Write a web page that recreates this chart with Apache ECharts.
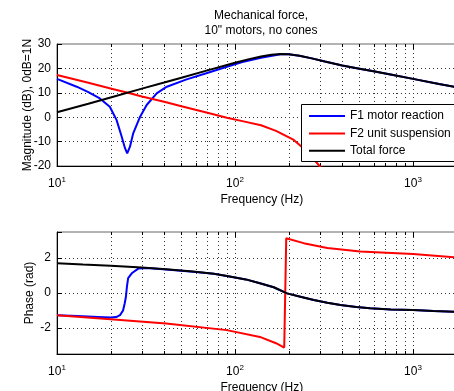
<!DOCTYPE html>
<html>
<head>
<meta charset="utf-8">
<script src="https://cdn.jsdelivr.net/npm/echarts@6/dist/echarts.min.js"></script>
<style>
  html, body { margin: 0; padding: 0; background: #fff; }
  #chart { width: 454px; height: 391px; }
</style>
</head>
<body>
<div id="chart"></div>
<script>
// magnitude (dB re 1N) vs frequency (Hz)
const f1MagFreq = [10, 12.9, 15, 17.4, 19.8, 21.6, 23.1, 24.1, 24.8, 25.7, 26.8, 29.3, 31.9, 36.3, 41.4, 53.5, 69, 90, 110, 140, 180, 200, 230, 270, 320, 400, 500, 600, 800, 1000, 1400, 2000]
const f1MagDb = [15.7, 12.5, 10.3, 7.7, 4.3, -1.1, -8.0, -12.7, -14.8, -12.1, -6.6, 0.2, 5.0, 9.8, 12.5, 15.5, 18.0, 20.7, 22.6, 24.4, 25.8, 25.8, 25.2, 24.1, 22.8, 21.2, 19.9, 18.8, 17.1, 15.7, 13.6, 11.5]

const f2MagFreq = [10, 15, 20, 25, 30, 40, 50, 70, 90, 110, 140, 170, 214, 254, 301, 350]
const f2MagDb = [17.3, 14.1, 11.8, 10.0, 8.5, 6.3, 4.5, 1.8, -0.2, -1.6, -3.3, -5.6, -9.3, -14.1, -20.3, -27]

const totalMagFreq = [10, 15, 20, 30, 40, 50, 70, 100, 120, 140, 160, 180, 200, 230, 270, 320, 400, 500, 600, 800, 1000, 1400, 2000]
const totalMagDb = [2.0, 5.5, 8.1, 11.7, 14.2, 16.2, 19.2, 22.3, 23.8, 24.9, 25.6, 25.9, 25.8, 25.2, 24.1, 22.8, 21.2, 19.9, 18.8, 17.1, 15.7, 13.6, 11.5]

// phase (rad) vs frequency (Hz)
const f1PhFreq = [10, 13, 17, 20, 21.5, 22.6, 23.5, 24, 24.4, 24.7, 25.1, 26.3, 28.6, 32, 41, 58, 76, 90, 115, 138, 165, 196, 233, 277, 330, 391, 480, 574, 750, 1000, 1300, 1700, 2000]
const f1PhRad = [-1.27, -1.32, -1.37, -1.40, -1.38, -1.27, -1.0, -0.6, -0.2, 0.35, 0.85, 1.13, 1.40, 1.44, 1.35, 1.22, 1.10, 0.98, 0.78, 0.56, 0.33, -0.02, -0.21, -0.40, -0.56, -0.69, -0.80, -0.88, -0.94, -0.98, -1.03, -1.08, -1.10]

const f2PhFreq = [10, 20, 41, 90, 138, 170, 189, 194, 243, 330, 505, 1000, 1700, 2000]
const f2PhRad = [-1.27, -1.50, -1.75, -2.13, -2.52, -2.88, -3.13, 3.14, 2.86, 2.58, 2.38, 2.24, 2.05, 2.02]

const totalPhFreq = [10, 14, 20, 30, 41, 58, 76, 90, 115, 138, 165, 196, 233, 277, 330, 391, 480, 574, 750, 1000, 1300, 1700, 2000]
const totalPhRad = [1.71, 1.63, 1.56, 1.46, 1.36, 1.23, 1.10, 0.98, 0.78, 0.56, 0.33, -0.02, -0.21, -0.40, -0.56, -0.69, -0.80, -0.88, -0.94, -0.98, -1.03, -1.08, -1.10]

const gridFreqs = [10, 20, 30, 40, 50, 60, 70, 80, 90, 100, 200, 300, 400, 500, 600, 700, 800, 900, 1000]
const magTicks = [-20, 30, 10]      // min, max, step
const phaseTicks = [-3.5, 3.5]

const font = 'Liberation Sans, Arial, Helvetica, sans-serif'
const names = ['F1 motor reaction', 'F2 unit suspension', 'Total force']
const colors = ['#0000ff', '#ff0000', '#000000']

const pairs = (xs, ys) => xs.map((x, i) => [x, ys[i]])

const chart = echarts.init(document.getElementById('chart'))

function logLabel(v) {
	const e = Math.log10(v)
	if (Math.abs(e - Math.round(e)) > 1e-6) return ''
	return '{b|10}{s|' + Math.round(e) + '}'
}

function xAxisFor(idx) {
	return {
		type: 'log',
		gridIndex: idx,
		min: 10,
		max: 2000,
		logBase: 10,
		name: 'Frequency (Hz)',
		nameLocation: 'middle',
		nameGap: 28,
		nameTextStyle: { color: '#000', fontSize: 12, fontFamily: font },
		axisLine: { onZero: false, lineStyle: { color: '#000', width: 1 } },
		axisTick: { show: false },
		splitLine: { show: false },
		axisLabel: {
			color: '#000',
			margin: 10,
			formatter: logLabel,
			rich: {
				b: { fontSize: 12, fontFamily: font, color: '#000' },
				s: { fontSize: 8, fontFamily: font, color: '#000', padding: [0, 0, 8, 0] }
			}
		}
	}
}

// dotted vertical grid lines plus inward ticks at bottom and top
function vGrid(idx, yMin, yMax) {
	return {
		type: 'custom',
		xAxisIndex: idx,
		yAxisIndex: idx,
		silent: true,
		z: 1,
		data: gridFreqs.map(f => [f, yMin]),
		renderItem(params, api) {
			const f = api.value(0)
			const b = api.coord([f, yMin])
			const t = api.coord([f, yMax])
			const major = Math.abs(Math.log10(f) - Math.round(Math.log10(f))) < 1e-6
			const len = major ? 5 : 3
			const x = Math.round(b[0]) + 0.5
			const children = [
				{ type: 'line', shape: { x1: x, y1: b[1], x2: x, y2: t[1] }, style: { stroke: '#333', lineWidth: 1, lineDash: [1, 3] } },
				{ type: 'line', shape: { x1: x, y1: b[1], x2: x, y2: b[1] - len }, style: { stroke: '#000', lineWidth: 1 } },
				{ type: 'line', shape: { x1: x, y1: t[1], x2: x, y2: t[1] + len }, style: { stroke: '#000', lineWidth: 1 } }
			]
			if (f === 10) children.shift()
			return { type: 'group', children }
		}
	}
}

function lineSeries(i, idx, data) {
	return {
		name: names[i],
		type: 'line',
		xAxisIndex: idx,
		yAxisIndex: idx,
		data,
		showSymbol: false,
		clip: true,
		z: 3,
		lineStyle: { color: colors[i], width: 2 },
		itemStyle: { color: colors[i] },
		emphasis: { disabled: true }
	}
}

const yCommon = {
	nameLocation: 'middle',
	nameMoveOverlap: false,
	nameTextStyle: { color: '#000', fontSize: 12, fontFamily: font },
	axisLine: { show: true, lineStyle: { color: '#000', width: 1 } },
	axisTick: { show: true, inside: true, length: 5, lineStyle: { color: '#000' } },
	axisLabel: { color: '#000', fontSize: 12, fontFamily: font, margin: 6 },
	splitLine: { show: true, showMinLine: false, showMaxLine: false, lineStyle: { color: '#333', width: 1, type: [1, 3] } }
}

const option = {
	backgroundColor: '#fff',
	animation: false,
	title: {
		text: 'Mechanical force,\n10" motors, no cones',
		left: 261,
		top: 8,
		textAlign: 'center',
		padding: 0,
		textStyle: { color: '#000', fontSize: 12, fontWeight: 'normal', fontFamily: font, lineHeight: 15 }
	},
	// legend frame runs past the right edge of the picture, as in the original
	graphic: [{
		type: 'rect',
		left: 301,
		top: 104,
		z: 10,
		shape: { width: 170, height: 57 },
		style: { fill: '#fff', stroke: '#000', lineWidth: 1 }
	}],
	legend: {
		data: names.map((n, i) => ({ name: n, itemStyle: { color: colors[i] } })),
		orient: 'vertical',
		left: 301,
		top: 104,
		z: 20,
		icon: 'rect',
		itemWidth: 36,
		itemHeight: 2,
		itemGap: 3.4,
		padding: [5, 8, 3, 8],
		selectedMode: false,
		textStyle: { color: '#000', fontSize: 12, fontFamily: font, lineHeight: 14 }
	},
	grid: [
		{ left: 57, top: 44, width: 409.6, height: 122, outerBoundsMode: 'none', containLabel: false, show: true, borderColor: '#666', borderWidth: 1, backgroundColor: 'transparent' },
		{ left: 57, top: 232, width: 409.6, height: 122, outerBoundsMode: 'none', containLabel: false, show: true, borderColor: '#666', borderWidth: 1, backgroundColor: 'transparent' }
	],
	xAxis: [xAxisFor(0), xAxisFor(1)],
	yAxis: [
		Object.assign({}, yCommon, {
			type: 'value', gridIndex: 0,
			min: magTicks[0], max: magTicks[1], interval: magTicks[2],
			name: 'Magnitude (dB), 0dB=1N', nameGap: 23
		}),
		Object.assign({}, yCommon, {
			type: 'value', gridIndex: 1,
			min: phaseTicks[0], max: phaseTicks[1], splitNumber: 3,
			name: 'Phase (rad)', nameGap: 21.5,
			axisLabel: Object.assign({}, yCommon.axisLabel, {
				formatter: v => (Math.abs(v - Math.round(v)) < 1e-6 ? String(v) : '')
			})
		})
	],
	series: [
		vGrid(0, magTicks[0], magTicks[1]),
		vGrid(1, phaseTicks[0], phaseTicks[1]),
		lineSeries(0, 0, pairs(f1MagFreq, f1MagDb)),
		lineSeries(1, 0, pairs(f2MagFreq, f2MagDb)),
		lineSeries(2, 0, pairs(totalMagFreq, totalMagDb)),
		lineSeries(0, 1, pairs(f1PhFreq, f1PhRad)),
		lineSeries(1, 1, pairs(f2PhFreq, f2PhRad)),
		lineSeries(2, 1, pairs(totalPhFreq, totalPhRad))
	]
}

chart.setOption(option)
</script>
</body>
</html>
